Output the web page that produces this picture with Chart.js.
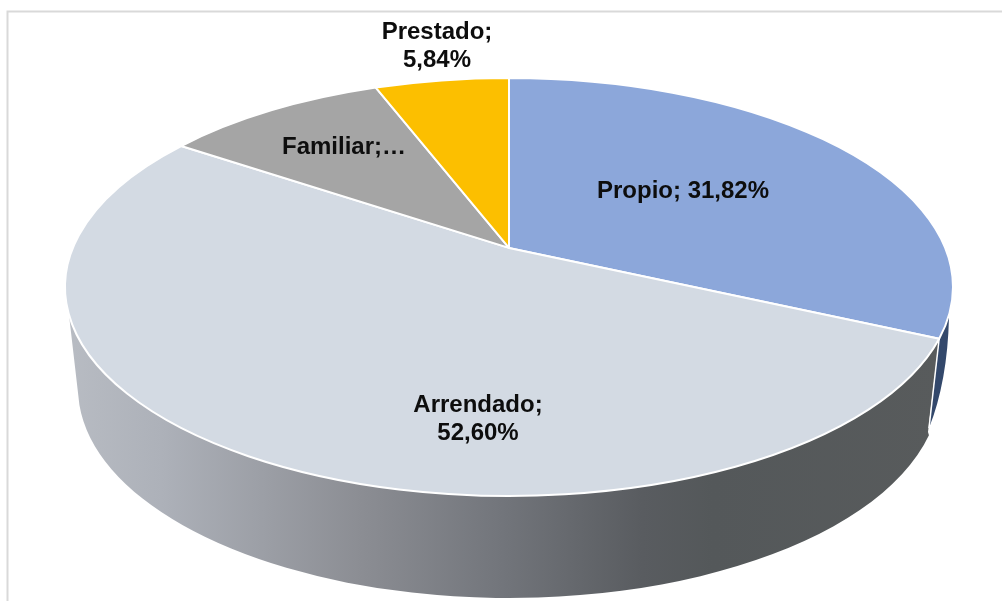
<!DOCTYPE html>
<html>
<head>
<meta charset="utf-8">
<style>html,body{margin:0;padding:0;background:#fff;overflow:hidden}canvas{display:block}</style>
<script src="https://cdn.jsdelivr.net/npm/chart.js@4/dist/chart.umd.js"></script>
</head>
<body>
<canvas id="c" width="1002" height="601"></canvas>
<script>
const categories = ["Propio", "Arrendado", "Familiar", "Prestado"];
const values = [31.82, 52.60, 9.74, 5.84];
const sliceColors = ["#8ca7da", "#d3dae3", "#a5a5a5", "#fcbf00"];
const labelLines = [["Propio; 31,82%"], ["Arrendado;", "52,60%"], ["Familiar;…"], ["Prestado;", "5,84%"]];

const TOP = {cx: 509, cy: 287, rx: 444, ry: 209};
const LOW = {cx: 509, cy: 388, rx: 431, ry: 210};
const V0 = -0.187;
const labelPos = [[683, 191], [478, 419], [344, 147], [437, 46]];

// Perspective: the pie's circle projects to the ellipse with its apex off-centre.
function project(a) {
  const u = Math.cos(a), v = Math.sin(a), d = 1 + v * V0;
  return [u * Math.sqrt(1 - V0 * V0) / d, (v + V0) / d];
}
function topAngle(a) { const p = project(a); return Math.atan2(p[1], p[0]); }

Chart.ArcElement.prototype.draw = function (ctx) {
  const o = this.options;
  let e1 = topAngle(this.startAngle), e2 = topAngle(this.endAngle);
  ctx.save();
  ctx.beginPath();
  ctx.moveTo(TOP.cx, TOP.cy + V0 * TOP.ry);
  ctx.ellipse(TOP.cx, TOP.cy, TOP.rx, TOP.ry, 0, e1, e2, false);
  ctx.closePath();
  ctx.fillStyle = o.backgroundColor;
  ctx.fill();
  ctx.lineWidth = o.borderWidth;
  ctx.strokeStyle = o.borderColor;
  ctx.lineJoin = "round";
  ctx.stroke();
  ctx.restore();
};

const framePlugin = {
  id: "frame",
  beforeDraw(chart) {
    const ctx = chart.ctx;
    ctx.save();
    ctx.strokeStyle = "#d9d9d9";
    ctx.lineWidth = 2;
    ctx.beginPath();
    ctx.moveTo(7.5, 601);
    ctx.lineTo(7.5, 11.5);
    ctx.lineTo(1002, 11.5);
    ctx.stroke();
    ctx.restore();
  }
};

const wallPlugin = {
  id: "wall",
  beforeDatasetsDraw(chart) {
    const ctx = chart.ctx;
    const arcs = chart.getDatasetMeta(0).data;
    const cut = topAngle(arcs[0].endAngle);
    const cutX = TOP.cx + TOP.rx * Math.cos(cut), cutY = TOP.cy + TOP.ry * Math.sin(cut);
    const wallStart = Math.atan2(0.134, -0.991);
    const lowStart = Math.atan2(0.081, -0.997);
    const lowEnd = Math.atan2(0.225, 0.974);
    const g = ctx.createLinearGradient(65, 0, 940, 0);
    g.addColorStop(0, "#b8bcc3");
    g.addColorStop(0.11, "#adb1b9");
    g.addColorStop(0.34, "#8b8d93");
    g.addColorStop(0.5, "#72757b");
    g.addColorStop(0.66, "#595c60");
    g.addColorStop(0.74, "#54585a");
    g.addColorStop(1, "#585b5c");
    ctx.save();
    // dark sliver under the first slice
    ctx.beginPath();
    ctx.moveTo(TOP.cx + TOP.rx * Math.cos(0.1440), TOP.cy + TOP.ry * Math.sin(0.1440));
    ctx.ellipse(TOP.cx, TOP.cy, TOP.rx, TOP.ry, 0, 0.1440, cut, false);
    ctx.lineTo(929, 428);
    ctx.quadraticCurveTo(947.5, 381.5, 949, 317);
    ctx.closePath();
    ctx.fillStyle = "#33486b";
    ctx.fill();
    // main wall
    ctx.beginPath();
    ctx.ellipse(TOP.cx, TOP.cy, TOP.rx, TOP.ry, 0, wallStart, cut, true);
    ctx.lineTo(928, 432);
    ctx.ellipse(LOW.cx, LOW.cy, LOW.rx, LOW.ry, 0, lowEnd, lowStart, false);
    ctx.closePath();
    ctx.fillStyle = g;
    ctx.fill();
    // white seam between the two wall pieces
    ctx.beginPath();
    ctx.moveTo(cutX, cutY);
    ctx.lineTo(929, 428);
    ctx.strokeStyle = "#ffffff";
    ctx.lineWidth = 1.5;
    ctx.stroke();
    ctx.restore();
  }
};

const labelPlugin = {
  id: "sliceLabels",
  afterDatasetsDraw(chart) {
    const ctx = chart.ctx;
    ctx.save();
    ctx.font = 'bold 24px "Liberation Sans", Arial, sans-serif';
    ctx.fillStyle = "#0d0d0d";
    ctx.textAlign = "center";
    ctx.textBaseline = "middle";
    labelLines.forEach((lines, i) => {
      const [x, y] = labelPos[i];
      lines.forEach((t, k) => ctx.fillText(t, x, y + (k - (lines.length - 1) / 2) * 28));
    });
    ctx.restore();
  }
};

new Chart(document.getElementById("c"), {
  type: "pie",
  data: {
    labels: categories,
    datasets: [{
      data: values,
      backgroundColor: sliceColors,
      borderColor: "#ffffff",
      borderWidth: 2
    }]
  },
  options: {
    responsive: false,
    animation: false,
    events: [],
    plugins: {legend: {display: false}, tooltip: {enabled: false}}
  },
  plugins: [framePlugin, wallPlugin, labelPlugin]
});
</script>
</body>
</html>
